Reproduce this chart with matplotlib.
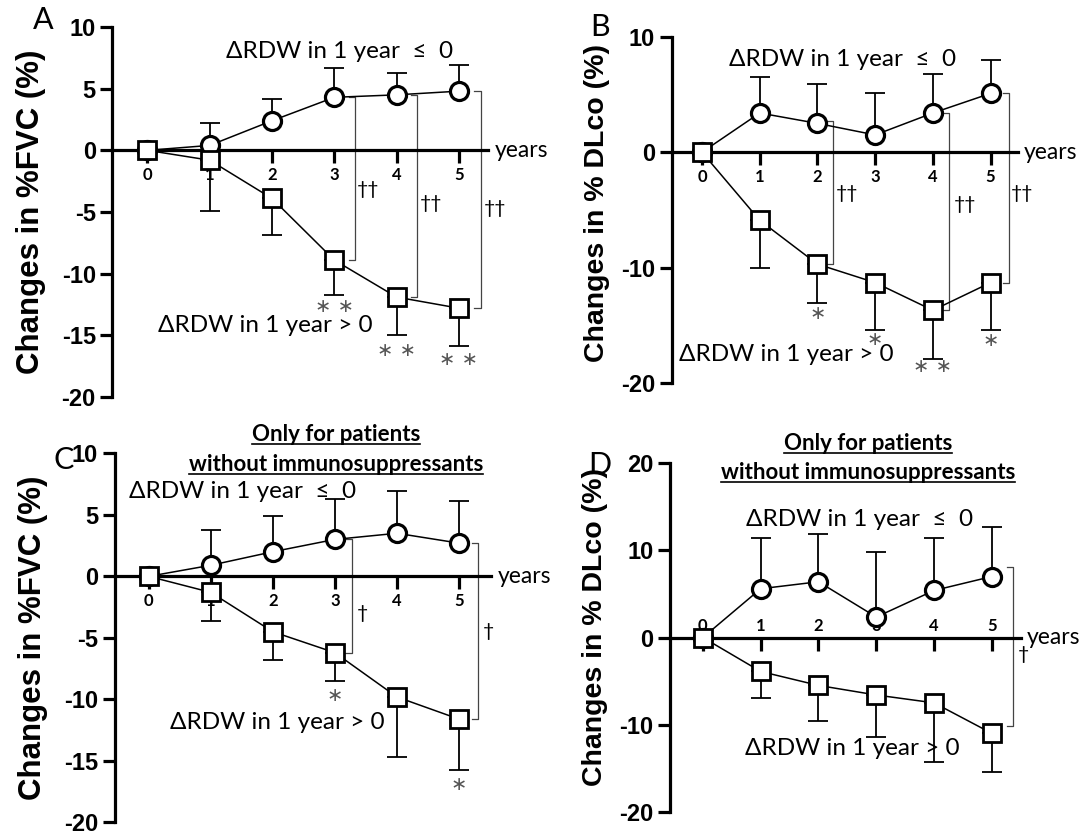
import matplotlib
matplotlib.use("Agg")
import matplotlib.pyplot as plt
import numpy as np

years = [0, 1, 2, 3, 4, 5]

# A: %FVC, all patients
fvc_le0 = [0, 0.4, 2.4, 4.3, 4.5, 4.8]
fvc_le0_top = [0, 2.2, 4.2, 6.7, 6.3, 6.9]
fvc_gt0 = [0, -0.8, -3.9, -8.9, -11.9, -12.8]
fvc_gt0_bot = [0, -4.9, -6.9, -11.7, -15.0, -15.9]

# B: %DLco, all patients
dlco_le0 = [0, 3.4, 2.5, 1.5, 3.4, 5.1]
dlco_le0_top = [0, 6.5, 5.9, 5.1, 6.8, 8.0]
dlco_gt0 = [0, -5.9, -9.7, -11.3, -13.7, -11.3]
dlco_gt0_bot = [0, -10.0, -13.1, -15.4, -17.9, -15.4]

# C: %FVC, without immunosuppressants
fvc2_le0 = [0, 0.9, 2.0, 3.0, 3.5, 2.7]
fvc2_le0_top = [0, 3.8, 4.9, 6.3, 6.9, 6.1]
fvc2_gt0 = [0, -1.3, -4.5, -6.2, -9.8, -11.6]
fvc2_gt0_bot = [0, -3.6, -6.8, -8.5, -14.7, -15.7]

# D: %DLco, without immunosuppressants
dlco2_le0 = [0, 5.6, 6.4, 2.35, 5.4, 7.0]
dlco2_le0_top = [0, 11.4, 11.9, 9.8, 11.4, 12.7]
dlco2_gt0 = [0, -3.9, -5.5, -6.6, -7.5, -11.0]
dlco2_gt0_bot = [0, -7.0, -9.6, -11.4, -14.3, -15.4]

# significance marks (x, y, text)
stars_a = [(3, -12.7, "∗ ∗"), (4, -16.2, "∗ ∗"), (5, -17.0, "∗ ∗")]
stars_b = [(2, -14.0, "∗"), (3, -16.2, "∗"), (4, -18.6, "∗ ∗"), (5, -16.3, "∗")]
stars_c = [(3, -9.7, "∗"), (5, -16.9, "∗")]
stars_d = []
# brackets between groups (x, top, bottom) and dagger labels (x, y, text)
brk_a = [(3.33, 4.3, -8.9), (4.33, 4.5, -11.9), (5.35, 4.8, -12.8)]
dag_a = [(3.55, -3.2, "††"), (4.56, -4.3, "††"), (5.58, -4.7, "††")]
brk_b = [(2.27, 2.7, -9.7), (4.28, 3.4, -13.7), (5.32, 5.1, -11.3)]
dag_b = [(2.51, -3.6, "††"), (4.56, -4.5, "††"), (5.55, -3.6, "††")]
brk_c = [(3.27, 3.0, -6.2), (5.31, 2.7, -11.6)]
dag_c = [(3.44, -3.0, "†"), (5.47, -4.5, "†")]
brk_d = [(5.36, 8.1, -10.2)]
dag_d = [(5.55, -2.0, "†")]

TXT = ["Lato", "Noto Sans", "DejaVu Sans"]
AX = ["Liberation Sans", "DejaVu Sans"]

fig = plt.figure(figsize=(10.89, 8.34), dpi=100)


def panel(rect, xlim, ylim, yticks, ylabel, le0, le0_top, gt0, gt0_bot,
          stars, brk, dag, lab_le, lab_gt, letter, letter_xy, title=None,
          labels_above=False, ylabel_size=22.5, ylabel_y=0.5):
    ax = fig.add_axes(rect)
    ax.set_xlim(*xlim)
    ax.set_ylim(*ylim)
    for s in ["top", "right"]:
        ax.spines[s].set_visible(False)
    ax.spines["bottom"].set_position(("data", 0))
    ax.spines["bottom"].set_linewidth(2.3)
    ax.spines["left"].set_linewidth(2.3)
    ax.set_yticks(yticks)
    ax.set_yticklabels([str(t) for t in yticks], fontsize=17, fontweight="bold", family=AX)
    ax.set_xticks(years)
    ax.set_xticklabels([str(y) for y in years], fontsize=12, fontweight="bold", family=TXT)
    ax.tick_params(axis="y", length=9, width=2.3, pad=3)
    ax.tick_params(axis="x", length=9, width=2.3, pad=3 if not labels_above else -23)
    ax.set_ylabel(ylabel, fontsize=ylabel_size, fontweight="bold", family=AX)
    ax.yaxis.set_label_coords(-0.178, ylabel_y)

    yr = np.array(years)
    le0 = np.array(le0)
    gt0 = np.array(gt0)
    up = np.array(le0_top) - le0
    dn = gt0 - np.array(gt0_bot)
    ax.errorbar(yr[1:], le0[1:], yerr=[np.zeros(5), up[1:]], fmt="none", ecolor="black",
                elinewidth=1.3, capsize=7, capthick=1.3, zorder=2)
    ax.errorbar(yr[1:], gt0[1:], yerr=[dn[1:], np.zeros(5)], fmt="none", ecolor="black",
                elinewidth=1.3, capsize=7, capthick=1.3, zorder=2)
    ax.plot(yr, le0, color="black", lw=1.1, marker="o", ms=13, mfc="white", mec="black",
            mew=2.3, zorder=4, clip_on=False)
    ax.plot(yr, gt0, color="black", lw=1.1, marker="s", ms=12.5, mfc="white", mec="black",
            mew=2.0, zorder=4, clip_on=False)

    for x, top, bot in brk:
        ax.plot([x - 0.1, x, x, x - 0.1], [top, top, bot, bot], color="#444", lw=0.9, zorder=1)
    for x, y, t in dag:
        ax.text(x, y, t, ha="center", va="center", fontsize=14, family=TXT)
    for x, y, t in stars:
        ax.text(x, y, t, ha="center", va="center", fontsize=14, color="#555",
                family=["DejaVu Sans"])

    ax.text(lab_le[0], lab_le[1], "ΔRDW in 1 year  ≤  0", ha="center", va="center",
            fontsize=17.5, family=TXT)
    ax.text(lab_gt[0], lab_gt[1], "ΔRDW in 1 year > 0", ha="center", va="center",
            fontsize=17.5, family=TXT)
    ax.text(xlim[1] + 0.1, 0, "years", ha="left", va="center", fontsize=16.5, family=TXT)
    fig.text(letter_xy[0] / 1089, 1 - letter_xy[1] / 834, letter, ha="center", va="center",
             fontsize=22, family=TXT)
    if title:
        for tx, ty, t in title:
            ax.text(tx, ty, t, ha="center", va="center", fontsize=16, fontweight="bold",
                    family=TXT)
    return ax


# title lines for C and D
title_c = [(3.02, 11.5, "Only for patients"), (3.02, 9.1, "without immunosuppressants")]
title_d = [(2.86, 22.3, "Only for patients"), (2.86, 18.9, "without immunosuppressants")]

axA = panel([0.1033, 0.524, 0.345, 0.4436], (-0.56, 5.47), (-20, 10), [-20, -15, -10, -5, 0, 5, 10],
            "Changes in %FVC (%)", fvc_le0, fvc_le0_top, fvc_gt0, fvc_gt0_bot,
            stars_a, brk_a, dag_a, (3.09, 8.0), (1.89, -14.2), "A", (43, 20))
axB = panel([0.6168, 0.5408, 0.318, 0.415], (-0.525, 5.475), (-20, 10), [-20, -10, 0, 10],
            "Changes in % DLco (%)", dlco_le0, dlco_le0_top, dlco_gt0, dlco_gt0_bot,
            stars_b, brk_b, dag_b, (2.43, 8.0), (1.46, -17.5), "B", (600, 27),
            ylabel_size=20.5, ylabel_y=0.52)
axC = panel([0.1052, 0.0138, 0.3459, 0.4427], (-0.55, 5.52), (-20, 10), [-20, -15, -10, -5, 0, 5, 10],
            "Changes in %FVC (%)", fvc2_le0, fvc2_le0_top, fvc2_gt0, fvc2_gt0_bot,
            stars_c, brk_c, dag_c, (1.52, 6.9), (2.07, -11.9), "C", (64, 460), title=title_c)
axD = panel([0.6152, 0.0267, 0.3221, 0.4178], (-0.57, 5.5), (-20, 20), [-20, -10, 0, 10, 20],
            "Changes in % DLco (%)", dlco2_le0, dlco2_le0_top, dlco2_gt0, dlco2_gt0_bot,
            stars_d, brk_d, dag_d, (2.71, 13.5), (2.59, -12.7), "D", (600, 465), title=title_d,
            labels_above=True, ylabel_size=20.5, ylabel_y=0.53)

# underline the bold title lines
fig.canvas.draw()
r = fig.canvas.get_renderer()
for ax in (axC, axD):
    for t in ax.texts:
        if t.get_fontweight() == "bold":
            bb = t.get_window_extent(renderer=r)
            y = bb.y0 + 1
            fig.add_artist(plt.Line2D([bb.x0 / 1089, bb.x1 / 1089], [y / 834, y / 834],
                                      color="black", lw=1.2))

fig.savefig("out.png", dpi=100)
